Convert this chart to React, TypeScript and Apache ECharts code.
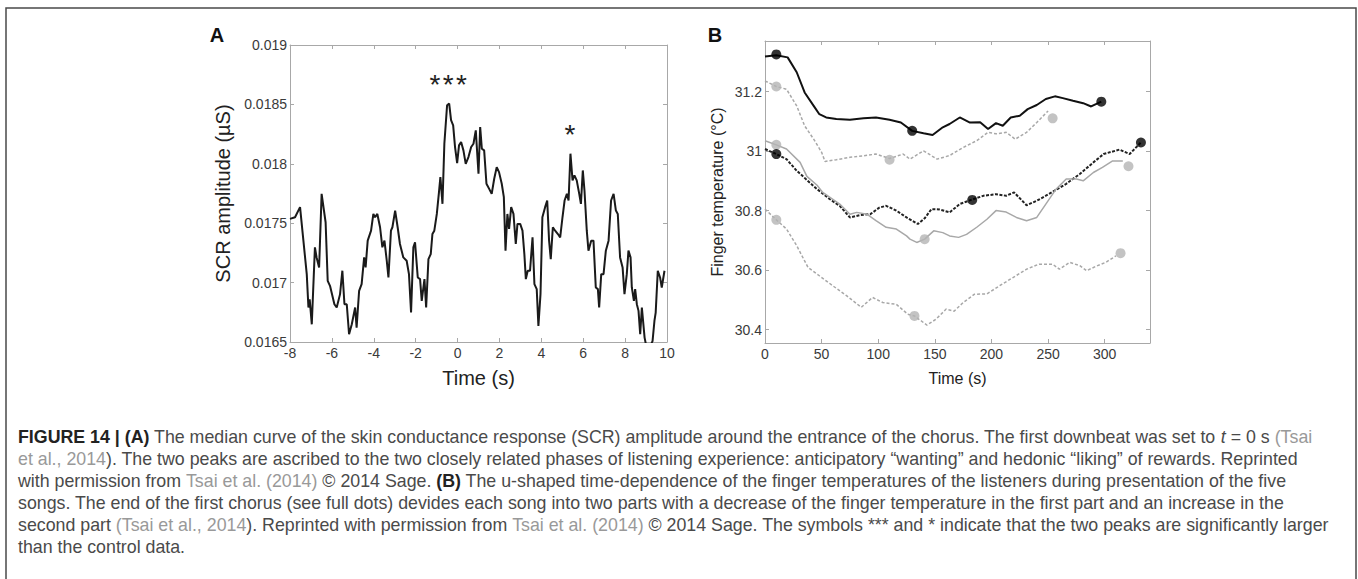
import React, { useEffect, useRef } from "react";
import * as echarts from "echarts";

const FONT = "'Liberation Sans', Arial, Helvetica, sans-serif";

// ---------- Panel A : SCR amplitude (µS) vs time (s) ----------
const scrTime = [
  -8.0, -7.76, -7.52, -7.36, -7.2, -7.12, -7.06, -6.96, -6.81, -6.73,
  -6.61, -6.49, -6.3, -6.2, -6.09, -5.88, -5.77, -5.61, -5.5, -5.4,
  -5.29, -5.18, -5.05, -4.89, -4.82, -4.7, -4.58, -4.46, -4.39, -4.29,
  -4.13, -4.02, -3.94, -3.83, -3.7, -3.59, -3.49, -3.38, -3.3, -3.18,
  -3.11, -2.98, -2.86, -2.75, -2.59, -2.43, -2.32, -2.22, -2.11, -2.03,
  -1.9, -1.79, -1.71, -1.58, -1.5, -1.39, -1.28, -1.2, -1.11, -0.99,
  -0.88, -0.82, -0.72, -0.63, -0.5, -0.4, -0.31, -0.21, -0.12, -0.02,
  0.07, 0.17, 0.28, 0.39, 0.52, 0.65, 0.76, 0.87, 0.93, 1.0,
  1.08, 1.16, 1.27, 1.38, 1.51, 1.63, 1.75, 1.87, 1.98, 2.11,
  2.21, 2.29, 2.38, 2.46, 2.56, 2.67, 2.78, 2.86, 2.99, 3.1,
  3.19, 3.26, 3.35, 3.46, 3.58, 3.67, 3.78, 3.86, 3.96, 4.05,
  4.18, 4.28, 4.37, 4.45, 4.55, 4.66, 4.79, 4.9, 5.01, 5.11,
  5.22, 5.3, 5.39, 5.49, 5.58, 5.69, 5.81, 5.89, 5.98, 6.06,
  6.17, 6.25, 6.38, 6.49, 6.6, 6.7, 6.76, 6.86, 6.97, 7.08,
  7.21, 7.33, 7.45, 7.56, 7.65, 7.76, 7.88, 7.97, 8.08, 8.16,
  8.26, 8.32, 8.42, 8.48, 8.56, 8.64, 8.72, 8.8, 8.93, 9.04,
  9.2, 9.31, 9.4, 9.46, 9.56, 9.67, 9.75, 9.88,
];
const scrValue = [
  0.017536, 0.01755, 0.017635, 0.017353, 0.017071, 0.01679, 0.01686, 0.016649, 0.017297, 0.017212,
  0.017128, 0.017747, 0.017508, 0.017015, 0.016973, 0.016818, 0.01679, 0.016903, 0.0171, 0.016818,
  0.016818, 0.016565, 0.016649, 0.01679, 0.016621, 0.016931, 0.016987, 0.017212, 0.017128, 0.017353,
  0.017437, 0.017578, 0.01755, 0.017578, 0.017466, 0.017297, 0.017353, 0.017184, 0.017043, 0.017437,
  0.017466, 0.017606, 0.017466, 0.017325, 0.017212, 0.017184, 0.017071, 0.016748, 0.017297, 0.017339,
  0.017043, 0.017029, 0.016846, 0.017029, 0.01679, 0.017198, 0.01724, 0.017409, 0.017437, 0.017578,
  0.017775, 0.017888, 0.017663, 0.018169, 0.018493, 0.018507, 0.018367, 0.018324, 0.018141, 0.018006,
  0.018155, 0.018184, 0.018113, 0.018, 0.018057, 0.018141, 0.018169, 0.018282, 0.018113, 0.017916,
  0.01831, 0.018127, 0.018113, 0.017832, 0.017789, 0.017747, 0.017874, 0.017972, 0.01793, 0.017832,
  0.017719, 0.017269, 0.017578, 0.017452, 0.017635, 0.017578, 0.017325, 0.017494, 0.017494, 0.017437,
  0.01724, 0.017029, 0.0171, 0.0171, 0.017381, 0.016987, 0.016945, 0.016635, 0.016903, 0.01755,
  0.017635, 0.017691, 0.017353, 0.017198, 0.017466, 0.017437, 0.017409, 0.017381, 0.01755, 0.017691,
  0.017747, 0.017691, 0.018085, 0.01786, 0.017902, 0.01786, 0.017747, 0.017663, 0.017944, 0.017775,
  0.017437, 0.017269, 0.017353, 0.017353, 0.016959, 0.016945, 0.01679, 0.017071, 0.017071, 0.017269,
  0.017353, 0.017691, 0.017747, 0.017606, 0.017578, 0.017212, 0.017128, 0.016903, 0.017071, 0.017269,
  0.017212, 0.016959, 0.016846, 0.016945, 0.016818, 0.016762, 0.016565, 0.01679, 0.016537, 0.016438,
  0.016466, 0.016508, 0.016677, 0.016748, 0.0171, 0.017043, 0.016959, 0.0171,
];
const annotTime = [-0.45, 5.37];
const annotValue = [0.018668, 0.018248];
const annotText = ["*\u200a*\u200a*", "*"];

// ---------- Panel B : finger temperature (°C) vs time (s) ----------
const songBlackSolid = [
  [0, 31.318], [10, 31.322], [20, 31.315], [28, 31.265], [35, 31.197], [43, 31.152], [48, 31.124],
  [54, 31.113], [63, 31.108], [75, 31.105], [87, 31.11], [98, 31.113], [110, 31.105], [120, 31.096],
  [130, 31.068], [140, 31.06], [148, 31.054], [157, 31.08], [163, 31.091], [172, 31.113], [181, 31.096],
  [190, 31.097], [197, 31.074], [204, 31.094], [210, 31.085], [217, 31.113], [225, 31.119], [232, 31.141],
  [240, 31.155], [248, 31.175], [256, 31.184], [263, 31.178], [272, 31.169], [281, 31.161], [288, 31.15],
  [297, 31.166],
];
const songGrayDashedUpper = [
  [0, 31.236], [10, 31.217], [19, 31.208], [28, 31.152], [35, 31.085], [43, 31.04], [50, 30.996],
  [53, 30.965], [63, 30.971], [75, 30.979], [87, 30.984], [98, 30.99], [110, 30.975], [122, 30.99],
  [128, 30.973], [140, 31.001], [152, 30.973], [163, 30.985], [175, 31.012], [187, 31.035], [197, 31.063],
  [204, 31.058], [213, 31.063], [221, 31.04], [231, 31.063], [240, 31.096], [250, 31.135],
];
const songBlackDashed = [
  [0, 31.007], [10, 30.99], [19, 30.973], [28, 30.934], [37, 30.903], [46, 30.872], [57, 30.839],
  [66, 30.816], [75, 30.777], [84, 30.785], [93, 30.788], [101, 30.81], [107, 30.816], [116, 30.8],
  [125, 30.777], [135, 30.755], [141, 30.774], [147, 30.805], [154, 30.804], [163, 30.794],
  [172, 30.822], [182, 30.836], [193, 30.85], [204, 30.855], [213, 30.85], [220, 30.861], [231, 30.818],
  [240, 30.833], [248, 30.85], [257, 30.87], [266, 30.89], [278, 30.923], [290, 30.962], [299, 30.99],
  [313, 31.005], [322, 30.99], [332, 31.029],
];
const songGraySolid = [
  [0, 31.035], [10, 31.021], [19, 31.007], [31, 30.962], [37, 30.915], [46, 30.885], [51, 30.861],
  [66, 30.822], [75, 30.788], [81, 30.794], [90, 30.788], [98, 30.766], [107, 30.744], [116, 30.738],
  [125, 30.715], [128, 30.704], [134, 30.693], [141, 30.704], [149, 30.732], [157, 30.726], [163, 30.715],
  [171, 30.71], [178, 30.72], [187, 30.744], [196, 30.771], [204, 30.8], [213, 30.795], [222, 30.777],
  [231, 30.766], [240, 30.777], [248, 30.822], [257, 30.872], [266, 30.906], [275, 30.906], [281, 30.9],
  [290, 30.928], [298, 30.945], [307, 30.967], [316, 30.967],
];
const songGrayDashedLower = [
  [0, 30.805], [10, 30.769], [19, 30.738], [28, 30.682], [38, 30.609], [48, 30.581], [60, 30.547],
  [72, 30.514], [85, 30.475], [95, 30.508], [104, 30.491], [116, 30.485], [126, 30.452], [132, 30.446],
  [143, 30.415], [151, 30.435], [160, 30.469], [167, 30.462], [175, 30.491], [185, 30.519], [196, 30.52],
  [207, 30.547], [219, 30.575], [231, 30.603], [242, 30.62], [254, 30.62], [260, 30.603], [269, 30.626],
  [278, 30.615], [284, 30.598], [293, 30.614], [301, 30.626], [310, 30.648],
];
const blackDots = [
  [10, 31.325], [130, 31.068], [297, 31.166],
  [10, 30.99], [183, 30.836], [332, 31.029],
];
const grayDots = [
  [10, 31.217], [110, 30.971], [254, 31.11],
  [10, 31.021], [141, 30.704], [321, 30.949],
  [10, 30.769], [132, 30.446], [314, 30.657],
];
const bTimeTicks = [0, 50, 100, 150, 200, 250, 300];
const bTempTicks = [30.4, 30.6, 30.8, 31, 31.2];

// ---------- Caption ----------
const captionLines = [
  "{b|FIGURE 14 | (A)} The median curve of the skin conductance response (SCR) amplitude around the entrance of the chorus. The first downbeat was set to {i|t} = 0 s {l|(Tsai}",
  "{l|et al., 2014}). The two peaks are ascribed to the two closely related phases of listening experience: anticipatory “wanting” and hedonic “liking” of rewards. Reprinted",
  "with permission from {l|Tsai et al. (2014)} © 2014 Sage. {b|(B)} The u-shaped time-dependence of the finger temperatures of the listeners during presentation of the five",
  "songs. The end of the first chorus (see full dots) devides each song into two parts with a decrease of the finger temperature in the first part and an increase in the",
  "second part {l|(Tsai et al., 2014}). Reprinted with permission from {l|Tsai et al. (2014)} © 2014 Sage. The symbols *** and * indicate that the two peaks are significantly larger",
  "than the control data.",
];

const AXIS_GRAY = "#a8a8a8";
const LABEL_COLOR = "#3a3a3a";
const CAP_SIZE = 17.8;
const CAP_COLOR = "#4a4a4a";

function tick(custom?: number[]) {
  const t: any = { show: true, inside: true, length: 4, lineStyle: { color: AXIS_GRAY, width: 1 } };
  if (custom) t.customValues = custom;
  return t;
}
const axisLine = { show: true, onZero: false, lineStyle: { color: AXIS_GRAY, width: 1 } };

function buildOption(): any {
  const graphic: any[] = [
    {
      type: "polyline",
      shape: { points: [[6, 579], [6, 8], [1356, 8], [1356, 579]] },
      style: { stroke: "#4a4a4a", lineWidth: 1.5, fill: null },
    },
    { type: "text", x: 217, y: 35, style: { text: "A", fontSize: 20, fontWeight: "bold", fontFamily: FONT, fill: "#111", align: "center", verticalAlign: "middle" } },
    { type: "text", x: 715, y: 35, style: { text: "B", fontSize: 20, fontWeight: "bold", fontFamily: FONT, fill: "#111", align: "center", verticalAlign: "middle" } },
  ];
  captionLines.forEach((line, i) => {
    graphic.push({
      type: "text",
      x: 18,
      y: 437 + i * 22,
      style: {
        text: line,
        fontSize: CAP_SIZE,
        fontFamily: FONT,
        fill: CAP_COLOR,
        verticalAlign: "middle",
        rich: {
          b: { fontSize: CAP_SIZE, fontFamily: FONT, fontWeight: "bold", fill: "#222", color: "#222" },
          l: { fontSize: CAP_SIZE, fontFamily: FONT, fill: "#999", color: "#999" },
          i: { fontSize: CAP_SIZE, fontFamily: FONT, fontStyle: "italic", fill: CAP_COLOR, color: CAP_COLOR },
        },
      },
    });
  });

  return {
    animation: false,
    backgroundColor: "#ffffff",
    grid: [
      { left: 290, top: 45, width: 377, height: 297, show: false },
      { left: 765, top: 41, width: 385, height: 302, show: false },
    ],
    xAxis: [
      {
        gridIndex: 0, type: "value", min: -8, max: 10, interval: 2, position: "bottom",
        axisLine, axisTick: tick(), splitLine: { show: false },
        axisLabel: { color: LABEL_COLOR, fontSize: 14, fontFamily: FONT, margin: 4 },
        name: "Time (s)", nameLocation: "middle", nameGap: 26,
        nameTextStyle: { fontSize: 20, color: "#222", fontFamily: FONT },
      },
      {
        gridIndex: 0, type: "value", min: -8, max: 10, interval: 2, position: "top",
        axisLine, axisTick: tick(), splitLine: { show: false }, axisLabel: { show: false },
      },
      {
        gridIndex: 1, type: "value", min: 0, max: 340, position: "bottom",
        axisLine, axisTick: tick(bTimeTicks), splitLine: { show: false },
        axisLabel: { color: LABEL_COLOR, fontSize: 14, fontFamily: FONT, margin: 4, customValues: bTimeTicks },
        name: "Time (s)", nameLocation: "middle", nameGap: 27,
        nameTextStyle: { fontSize: 16, color: "#222", fontFamily: FONT },
      },
      {
        gridIndex: 1, type: "value", min: 0, max: 340, position: "top",
        axisLine, axisTick: tick(bTimeTicks), splitLine: { show: false },
        axisLabel: { show: false, customValues: bTimeTicks },
      },
    ],
    yAxis: [
      {
        gridIndex: 0, type: "value", min: 0.0165, max: 0.019, interval: 0.0005, position: "left",
        axisLine, axisTick: tick(), splitLine: { show: false },
        axisLabel: {
          color: LABEL_COLOR, fontSize: 14, fontFamily: FONT, margin: 3,
          formatter: (v: number) => String(+v.toFixed(4)),
        },
        name: "SCR amplitude (µS)", nameLocation: "middle", nameGap: 57,
        nameTextStyle: { fontSize: 20, color: "#222", fontFamily: FONT },
      },
      {
        gridIndex: 0, type: "value", min: 0.0165, max: 0.019, interval: 0.0005, position: "right",
        axisLine, axisTick: tick(), splitLine: { show: false }, axisLabel: { show: false },
      },
      {
        gridIndex: 1, type: "value", min: 30.355, max: 31.37, position: "left",
        axisLine, axisTick: tick(bTempTicks), splitLine: { show: false },
        axisLabel: {
          color: LABEL_COLOR, fontSize: 14, fontFamily: FONT, margin: 3, customValues: bTempTicks,
          formatter: (v: number) => String(+v.toFixed(1)),
        },
        name: "Finger temperature (°C)", nameLocation: "middle", nameGap: 40,
        nameTextStyle: { fontSize: 16, color: "#222", fontFamily: FONT },
      },
      {
        gridIndex: 1, type: "value", min: 30.355, max: 31.37, position: "right",
        axisLine, axisTick: tick(bTempTicks), splitLine: { show: false },
        axisLabel: { show: false, customValues: bTempTicks },
      },
    ],
    series: [
      {
        name: "SCR", type: "line", xAxisIndex: 0, yAxisIndex: 0,
        data: scrTime.map((t, i) => [t, scrValue[i]]),
        symbol: "none", showSymbol: false, clip: true,
        lineStyle: { color: "#1a1a1a", width: 2 },
        markPoint: {
          symbol: "circle", symbolSize: 1,
          itemStyle: { color: "rgba(0,0,0,0)" },
          label: {
            show: true, position: "inside", fontSize: 28, color: "#222", fontFamily: FONT,
            formatter: (p: any) => p.name,
          },
          data: annotText.map((txt, i) => ({ name: txt, coord: [annotTime[i], annotValue[i]] })),
        },
      },
      {
        name: "song1", type: "line", xAxisIndex: 2, yAxisIndex: 2, data: songBlackSolid,
        symbol: "none", lineStyle: { color: "#111", width: 2 },
      },
      {
        name: "song2", type: "line", xAxisIndex: 2, yAxisIndex: 2, data: songGrayDashedUpper,
        symbol: "none", lineStyle: { color: "#a8a8a8", width: 1.5, type: [3, 2] },
      },
      {
        name: "song3", type: "line", xAxisIndex: 2, yAxisIndex: 2, data: songBlackDashed,
        symbol: "none", lineStyle: { color: "#222", width: 2, type: [3, 1.5] },
      },
      {
        name: "song4", type: "line", xAxisIndex: 2, yAxisIndex: 2, data: songGraySolid,
        symbol: "none", lineStyle: { color: "#a8a8a8", width: 1.5 },
      },
      {
        name: "song5", type: "line", xAxisIndex: 2, yAxisIndex: 2, data: songGrayDashedLower,
        symbol: "none", lineStyle: { color: "#a8a8a8", width: 1.5, type: [3, 2] },
      },
      {
        name: "grayDots", type: "scatter", xAxisIndex: 2, yAxisIndex: 2, data: grayDots,
        symbol: "circle", symbolSize: 10, itemStyle: { color: "#b4b4b4" }, z: 5,
      },
      {
        name: "blackDots", type: "scatter", xAxisIndex: 2, yAxisIndex: 2, data: blackDots,
        symbol: "circle", symbolSize: 10, itemStyle: { color: "#000" }, z: 6,
      },
    ],
    graphic,
  };
}

export default function App() {
  const ref = useRef<HTMLDivElement>(null);
  useEffect(() => {
    if (!ref.current) return;
    const chart = echarts.init(ref.current, null, { renderer: "svg" });
    chart.setOption(buildOption());
    return () => chart.dispose();
  }, []);
  return (
    <div
      ref={ref}
      style={{ position: "fixed", left: 0, top: 0, width: 1358, height: 579, background: "#fff" }}
    />
  );
}
